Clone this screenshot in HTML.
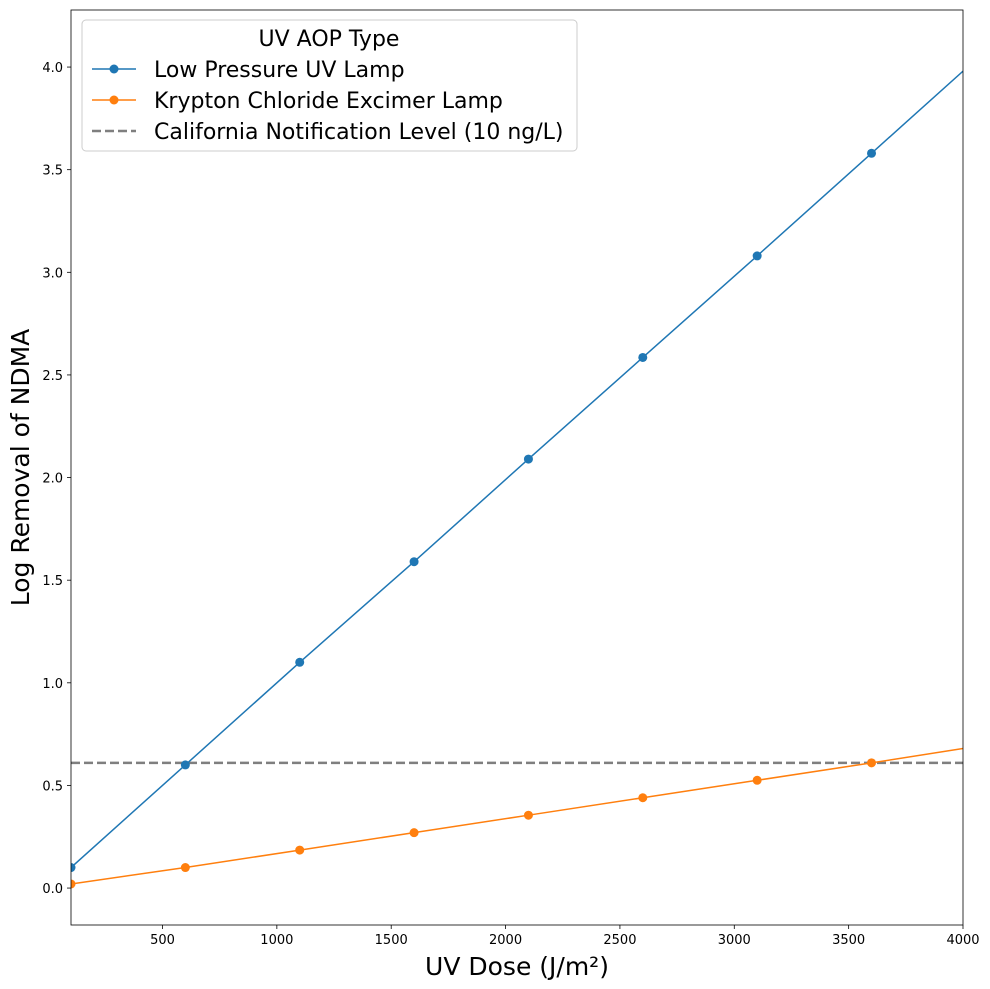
<!DOCTYPE html>
<html><head><meta charset="utf-8">
<style>
html,body{margin:0;padding:0;background:#fff;}
svg{display:block;font-family:"DejaVu Sans","Liberation Sans",sans-serif;}
</style></head>
<body>
<svg id="chart" width="990" height="989" viewBox="0 0 990 989" xmlns="http://www.w3.org/2000/svg"></svg>
<script>
const doses = [100, 600, 1100, 1600, 2100, 2600, 3100, 3600];
const lowPressure = [0.10, 0.60, 1.10, 1.59, 2.09, 2.585, 3.08, 3.58];
const krypton = [0.02, 0.10, 0.185, 0.27, 0.355, 0.44, 0.525, 0.61];
const lineEndDose = 4000;
const lowPressureEnd = 3.98;
const kryptonEnd = 0.68;
const notificationLevel = 0.61;
const xTicks = [500, 1000, 1500, 2000, 2500, 3000, 3500, 4000];
const yTicks = [0.0, 0.5, 1.0, 1.5, 2.0, 2.5, 3.0, 3.5, 4.0];

const L=71,R=963,T=10,B=925;
const xMin=100,xMax=4000,yMin=-0.18,yMax=4.278;
const X=v=>L+(v-xMin)/(xMax-xMin)*(R-L);
const Y=v=>B-(v-yMin)/(yMax-yMin)*(B-T);
const svg=document.getElementById('chart');
const NS='http://www.w3.org/2000/svg';
function mk(tag,attrs,parent){const e=document.createElementNS(NS,tag);for(const k in attrs)e.setAttribute(k,attrs[k]);(parent||svg).appendChild(e);return e;}

xTicks.forEach(t=>{
  const l=mk('line',{x1:X(t),x2:X(t),y1:B,y2:B+4,stroke:'#000','stroke-width':0.8});
  
  
  const tx=mk('text',{x:X(t),y:B+19,'text-anchor':'middle','font-size':13});
  tx.textContent=t;
  
  
});
yTicks.forEach(t=>{
  const l=mk('line',{x1:L-4,x2:L,y1:Y(t),y2:Y(t),stroke:'#000','stroke-width':0.8});
  
  
  const tx=mk('text',{x:L-8,y:Y(t)+5,'text-anchor':'end','font-size':13});
  tx.textContent=t.toFixed(1);
  
  
});

const defs=mk('defs',{});
const cp=mk('clipPath',{id:'clip'},defs);
mk('rect',{x:L,y:T,width:R-L,height:B-T},cp);
const g=mk('g',{'clip-path':'url(#clip)'});



const dl=mk('line',{x1:L,x2:R,y1:Y(notificationLevel),y2:Y(notificationLevel),stroke:'#7f7f7f','stroke-width':2.5,'stroke-dasharray':'9,4'},g);



function series(vals,end,color,name){
  const pts=doses.map((d,i)=>X(d)+','+Y(vals[i])).concat([X(lineEndDose)+','+Y(end)]);
  const p=mk('polyline',{points:pts.join(' '),fill:'none',stroke:color,'stroke-width':1.5},g);
  
  
  doses.forEach((d,i)=>{
    const c=mk('circle',{cx:X(d),cy:Y(vals[i]),r:4.5,fill:color},g);
    
    
  });
}
series(lowPressure,lowPressureEnd,'#1f77b4','low-pressure');
series(krypton,kryptonEnd,'#ff7f0e','krypton');

const fr=mk('rect',{x:L,y:T,width:R-L,height:B-T,fill:'none',stroke:'#000','stroke-width':0.8});



const xt=mk('text',{x:(L+R)/2,y:975,'text-anchor':'middle','font-size':25});
xt.textContent='UV Dose (J/m²)';


const yt=mk('text',{x:0,y:0,'text-anchor':'middle','font-size':25,transform:'translate(29,'+((T+B)/2)+') rotate(-90)'});
yt.textContent='Log Removal of NDMA';



const lg=mk('g',{});


mk('rect',{x:82,y:20,width:495,height:131,rx:4,fill:'#fff','fill-opacity':0.8,stroke:'#ccc','stroke-width':1},lg);
const ttl=mk('text',{x:329,y:46,'text-anchor':'middle','font-size':22},lg);
ttl.textContent='UV AOP Type';


const entries=[['Low Pressure UV Lamp','#1f77b4','solid'],['Krypton Chloride Excimer Lamp','#ff7f0e','solid'],['California Notification Level (10 ng/L)','#7f7f7f','dash']];
entries.forEach((e,i)=>{
  const y=69+i*31;
  const eg=mk('g',{},lg);
  
  
  if(e[2]==='dash'){
    mk('line',{x1:92,x2:136,y1:y,y2:y,stroke:e[1],'stroke-width':2.5,'stroke-dasharray':'9,4'},eg);
  }else{
    mk('line',{x1:92,x2:136,y1:y,y2:y,stroke:e[1],'stroke-width':1.5},eg);
    mk('circle',{cx:114,cy:y,r:4.5,fill:e[1]},eg);
  }
  const t=mk('text',{x:154,y:y+8,'font-size':22},eg);
  t.textContent=e[0];
});
</script>
</body></html>
